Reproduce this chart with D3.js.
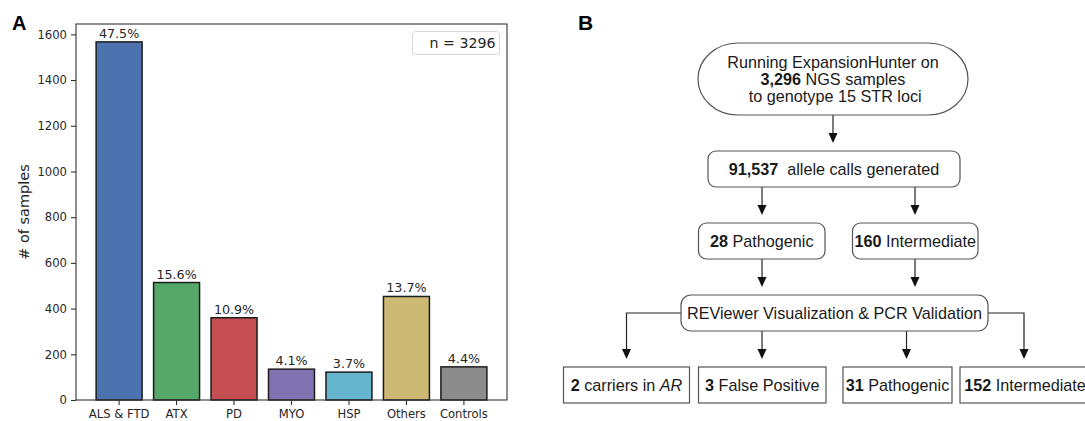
<!DOCTYPE html>
<html>
<head>
<meta charset="utf-8">
<script src="https://cdn.jsdelivr.net/npm/d3@7"></script>
<style>
  body { margin: 0; background: #fff; }
  svg { display: block; }
</style>
</head>
<body>
<svg id="fig" width="1085" height="421"></svg>
<script>
// ---- Panel A data: samples per diagnostic group ----
const categories   = ["ALS & FTD", "ATX", "PD", "MYO", "HSP", "Others", "Controls"];
const sampleCounts = [1567, 514, 360, 135, 122, 453, 145];
const barColors    = ["#4c72b0", "#55a868", "#c44e52", "#8172b2", "#64b5cd", "#ccb974", "#8c8c8c"];
const yTickValues  = [0, 200, 400, 600, 800, 1000, 1200, 1400, 1600];
const yAxisTitle   = "# of samples";

// ---- Panel B data: genotyping workflow steps (text runs per line) ----
const flowSteps = [
  { id: "start",    lines: [[{ t: "Running ExpansionHunter on" }],
                            [{ t: "3,296", b: true }, { t: " NGS samples" }],
                            [{ t: " to genotype 15 STR loci" }]] },
  { id: "calls",    lines: [[{ t: "91,537", b: true }, { t: "  allele calls generated" }]] },
  { id: "patho1",   lines: [[{ t: "28", b: true }, { t: " Pathogenic" }]] },
  { id: "inter1",   lines: [[{ t: "160", b: true }, { t: " Intermediate" }]] },
  { id: "review",   lines: [[{ t: "REViewer Visualization & PCR Validation" }]] },
  { id: "carriers", lines: [[{ t: "2", b: true }, { t: " carriers in " }, { t: "AR", i: true }]] },
  { id: "falsePos", lines: [[{ t: "3", b: true }, { t: " False Positive" }]] },
  { id: "patho2",   lines: [[{ t: "31", b: true }, { t: " Pathogenic" }]] },
  { id: "inter2",   lines: [[{ t: "152", b: true }, { t: " Intermediate" }]] }
];
const flowLinks = [
  ["start", "calls"], ["calls", "patho1"], ["calls", "inter1"],
  ["patho1", "review"], ["inter1", "review"],
  ["review", "carriers"], ["review", "falsePos"], ["review", "patho2"], ["review", "inter2"]
];

const svg = d3.select("#fig");
const totalSamples = d3.sum(sampleCounts);

// ================= Panel A: bar chart =================
const plot = { left: 76, right: 507, top: 24, bottom: 400 };
const mplFont = "'DejaVu Sans', sans-serif";
const ink = "#262626";

const x = d3.scaleBand()
  .domain(categories)
  .range([plot.left, plot.right])
  .paddingInner(0.2)
  .paddingOuter(0.35);

const y = d3.scaleLinear()
  .domain([0, d3.max(sampleCounts) * 1.05])
  .range([plot.bottom, plot.top]);

const gA = svg.append("g").attr("class", "panel-a");

// bars
const bars = categories.map((c, i) => ({ cat: c, n: sampleCounts[i], color: barColors[i] }));
gA.selectAll("rect.bar")
  .data(bars)
  .join("rect")
  .attr("class", "bar")
  .attr("x", d => x(d.cat))
  .attr("width", x.bandwidth())
  .attr("y", d => y(d.n))
  .attr("height", d => y(0) - y(d.n))
  .attr("fill", d => d.color)
  .attr("stroke", "#1c1c1c")
  .attr("stroke-width", 1.5);

// percentage labels
gA.selectAll("text.pct")
  .data(bars)
  .join("text")
  .attr("class", "pct")
  .attr("x", d => x(d.cat) + x.bandwidth() / 2)
  .attr("y", d => y(d.n) - 4)
  .attr("text-anchor", "middle")
  .attr("font-family", mplFont)
  .attr("font-size", 12.7)
  .attr("fill", ink)
  .text(d => (d.n / totalSamples * 100).toFixed(1) + "%");

// axes
const yAxis = d3.axisLeft(y).tickValues(yTickValues).tickFormat(d3.format("d"))
  .tickSize(5).tickPadding(4);
const gy = gA.append("g").attr("transform", `translate(${plot.left},0)`).call(yAxis);
const xAxis = d3.axisBottom(x).tickSize(5).tickPadding(5);
const gx = gA.append("g").attr("transform", `translate(0,${plot.bottom})`).call(xAxis);
[gx, gy].forEach(g => {
  g.select(".domain").remove();
  g.selectAll(".tick line").attr("stroke", "#333").attr("stroke-width", 1.1);
  g.selectAll(".tick text")
    .attr("font-family", mplFont)
    .attr("font-size", 11.6)
    .attr("fill", ink);
});

// frame
gA.append("rect")
  .attr("x", plot.left).attr("y", plot.top)
  .attr("width", plot.right - plot.left).attr("height", plot.bottom - plot.top)
  .attr("fill", "none").attr("stroke", "#333").attr("stroke-width", 1.1);

// y axis title
gA.append("text")
  .attr("transform", `translate(29,${(plot.top + plot.bottom) / 2}) rotate(-90)`)
  .attr("text-anchor", "middle")
  .attr("font-family", mplFont)
  .attr("font-size", 14.5)
  .attr("fill", ink)
  .text(yAxisTitle);

// sample-size legend
gA.append("rect")
  .attr("x", 412.5).attr("y", 31.5).attr("width", 87).attr("height", 23)
  .attr("rx", 3).attr("fill", "#fff").attr("fill-opacity", 0.8)
  .attr("stroke", "#d6d6d6").attr("stroke-width", 1);
gA.append("text")
  .attr("x", 495.5).attr("y", 48.3)
  .attr("text-anchor", "end")
  .attr("font-family", mplFont)
  .attr("font-size", 14.2)
  .attr("fill", ink)
  .text("n = " + totalSamples);

// panel letters
const letterFont = "'Liberation Sans', Arial, sans-serif";
svg.append("text").attr("x", 12).attr("y", 30)
  .attr("font-family", letterFont).attr("font-weight", "bold").attr("font-size", 20)
  .attr("fill", "#000").text("A");
svg.append("text").attr("x", 578).attr("y", 30)
  .attr("font-family", letterFont).attr("font-weight", "bold").attr("font-size", 21)
  .attr("fill", "#000").text("B");

// ================= Panel B: workflow diagram =================
const flowFont = "'Liberation Sans', Arial, sans-serif";
const boxLayout = {
  start:    { x: 698,   y: 43,  w: 270,   h: 72, shape: "stadium" },
  calls:    { x: 708,   y: 151, w: 252,   h: 36, r: 8 },
  patho1:   { x: 698.5, y: 223, w: 126.5, h: 36, r: 8 },
  inter1:   { x: 852.5, y: 223, w: 125.5, h: 36, r: 8 },
  review:   { x: 681,   y: 295, w: 307,   h: 36, r: 10 },
  carriers: { x: 563.5, y: 367, w: 126,   h: 36, r: 0 },
  falsePos: { x: 698.5, y: 367, w: 127.5, h: 36, r: 0 },
  patho2:   { x: 843,   y: 367, w: 109,   h: 36, r: 0 },
  inter2:   { x: 960,   y: 367, w: 130,   h: 36, r: 0 }
};
// connector routes (arrow tip ends 8px short of the target box)
const linkRoutes = {
  "start-calls":     [[833, 115], [833, 143]],
  "calls-patho1":    [[762, 187], [762, 215]],
  "calls-inter1":    [[915, 187], [915, 215]],
  "patho1-review":   [[762, 259], [762, 287]],
  "inter1-review":   [[915, 259], [915, 287]],
  "review-carriers": [[681, 313], [626.5, 313], [626.5, 359]],
  "review-falsePos": [[762, 331], [762, 359]],
  "review-patho2":   [[906.5, 331], [906.5, 359]],
  "review-inter2":   [[988, 313], [1024, 313], [1024, 359]]
};

const gB = svg.append("g").attr("class", "panel-b");

// connectors
const line = d3.line();
flowLinks.forEach(([a, b]) => {
  const pts = linkRoutes[a + "-" + b];
  const tip = pts[pts.length - 1];
  const shaft = pts.slice(0, -1).concat([[tip[0], tip[1] - 9]]);
  gB.append("path")
    .attr("d", line(shaft))
    .attr("fill", "none").attr("stroke", "#222").attr("stroke-width", 1.2);
  gB.append("path")
    .attr("d", line([[tip[0] - 4.5, tip[1] - 10], [tip[0] + 4.5, tip[1] - 10], tip]) + "Z")
    .attr("fill", "#111");
});

// boxes with text
flowSteps.forEach(step => {
  const L = boxLayout[step.id];
  const g = gB.append("g");
  const rx = L.shape === "stadium" ? 40 : L.r;
  const ry = L.shape === "stadium" ? L.h / 2 : L.r;
  g.append("rect")
    .attr("x", L.x).attr("y", L.y).attr("width", L.w).attr("height", L.h)
    .attr("rx", rx).attr("ry", ry)
    .attr("fill", "#fff").attr("stroke", "#555").attr("stroke-width", 1.2);

  const lineGap = 17;
  const cx = L.x + L.w / 2;
  const cy = L.y + L.h / 2;
  const n = step.lines.length;
  step.lines.forEach((runs, k) => {
    const baseY = cy + (k - (n - 1) / 2) * lineGap + 5.8;
    const t = g.append("text")
      .attr("x", cx).attr("y", baseY)
      .attr("text-anchor", "middle")
      .attr("font-family", flowFont)
      .attr("font-size", 16.2)
      .attr("fill", "#1a1a1a")
      .style("white-space", "pre");
    runs.forEach(r => {
      t.append("tspan")
        .attr("font-weight", r.b ? "bold" : "normal")
        .attr("font-style", r.i ? "italic" : "normal")
        .text(r.t);
    });
  });
});
</script>
</body>
</html>
